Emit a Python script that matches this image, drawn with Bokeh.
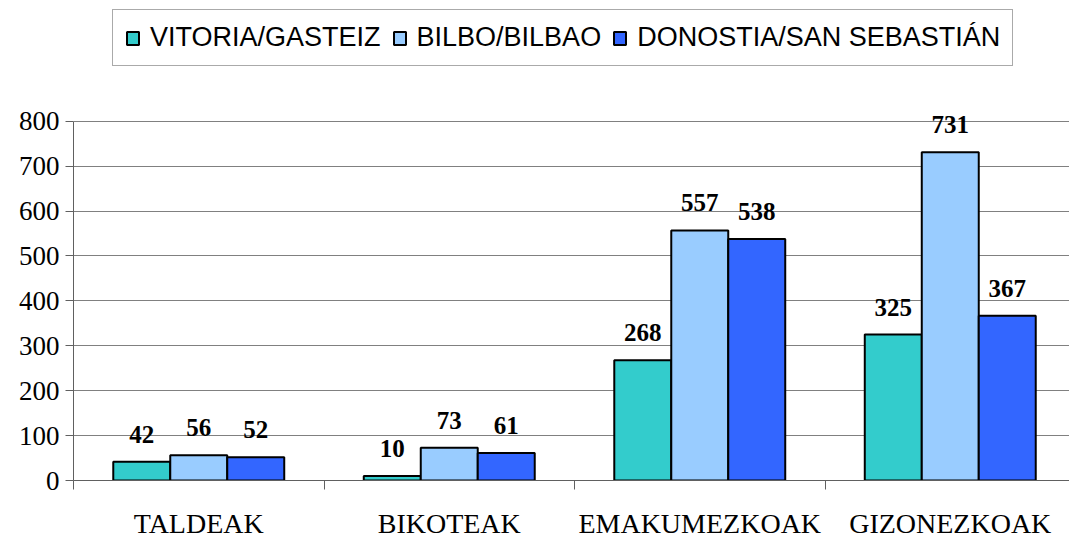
from bokeh.plotting import figure
from bokeh.models import (ColumnDataSource, Range1d, FixedTicker, LabelSet, Legend, LegendItem)
from bokeh.embed import file_html
from bokeh.resources import INLINE

categories = ["TALDEAK", "BIKOTEAK", "EMAKUMEZKOAK", "GIZONEZKOAK"]
series = ["VITORIA/GASTEIZ", "BILBO/BILBAO", "DONOSTIA/SAN SEBASTIÁN"]
vitoria = [42, 10, 268, 325]
bilbo = [56, 73, 557, 731]
donostia = [52, 61, 538, 367]
colors = ["#33CCCC", "#99CCFF", "#3366FF"]
y_ticks = [0, 100, 200, 300, 400, 500, 600, 700, 800]

BAR_W = 0.2275
offsets = [-BAR_W, 0.0, BAR_W]

p = figure(width=1069, height=541, output_backend="svg", toolbar_location=None,
           x_range=Range1d(0, 3.976), y_range=Range1d(0, 1069),
           min_border_left=73, min_border_right=0, min_border_top=0, min_border_bottom=60)
p.outline_line_color = None
p.background_fill_color = "white"

legend_items = []
for vals, name, col, off in zip([vitoria, bilbo, donostia], series, colors, offsets):
    xs = [i + 0.5 + off for i in range(len(categories))]
    src = ColumnDataSource(dict(x=xs, top=vals, label=[str(v) for v in vals]))
    r = p.vbar(x="x", top="top", width=BAR_W, bottom=0, source=src,
               fill_color=col, line_color="black", line_width=2)
    legend_items.append(LegendItem(label=name, renderers=[r]))
    labels = LabelSet(x="x", y="top", text="label", source=src, text_align="center",
                      text_baseline="alphabetic", y_offset=19,
                      text_font="Liberation Serif", text_font_style="bold",
                      text_font_size="25px", text_color="black")
    p.add_layout(labels)

# axes
p.yaxis.ticker = FixedTicker(ticks=y_ticks)
p.yaxis.bounds = (0, 800)
p.yaxis.major_label_text_font = "Liberation Serif"
p.yaxis.major_label_text_font_size = "27px"
p.yaxis.major_label_text_color = "black"
p.yaxis.major_tick_out = 8
p.yaxis.major_tick_in = 0
p.yaxis.minor_tick_line_color = None
p.yaxis.axis_line_color = "#606060"
p.yaxis.major_tick_line_color = "#606060"
p.yaxis.major_label_standoff = 6

p.xaxis.ticker = FixedTicker(ticks=[i + 0.5 for i in range(len(categories))],
                             minor_ticks=list(range(len(categories) + 1)))
p.xaxis.major_label_overrides = {i + 0.5: c for i, c in enumerate(categories)}
p.xaxis.major_label_text_font = "Liberation Serif"
p.xaxis.major_label_text_font_size = "28px"
p.xaxis.major_label_text_color = "black"
p.xaxis.major_tick_line_color = None
p.xaxis.minor_tick_out = 9
p.xaxis.minor_tick_in = 0
p.xaxis.minor_tick_line_color = "#606060"
p.xaxis.axis_line_color = "#606060"
p.xaxis.major_label_standoff = 18

p.xgrid.grid_line_color = None
p.ygrid.ticker = FixedTicker(ticks=y_ticks)
p.ygrid.grid_line_color = "#808080"

legend = Legend(items=legend_items, orientation="horizontal", location=(39, 414),
                label_text_font="Liberation Sans", label_text_font_size="27px",
                label_text_color="black", glyph_width=15, glyph_height=16,
                label_standoff=10, spacing=11, padding=12, margin=0,
                border_line_color="#555555", border_line_width=1,
                background_fill_color="white", background_fill_alpha=1.0)
p.add_layout(legend, "center")

open("out.html", "w").write(file_html(p, INLINE))
